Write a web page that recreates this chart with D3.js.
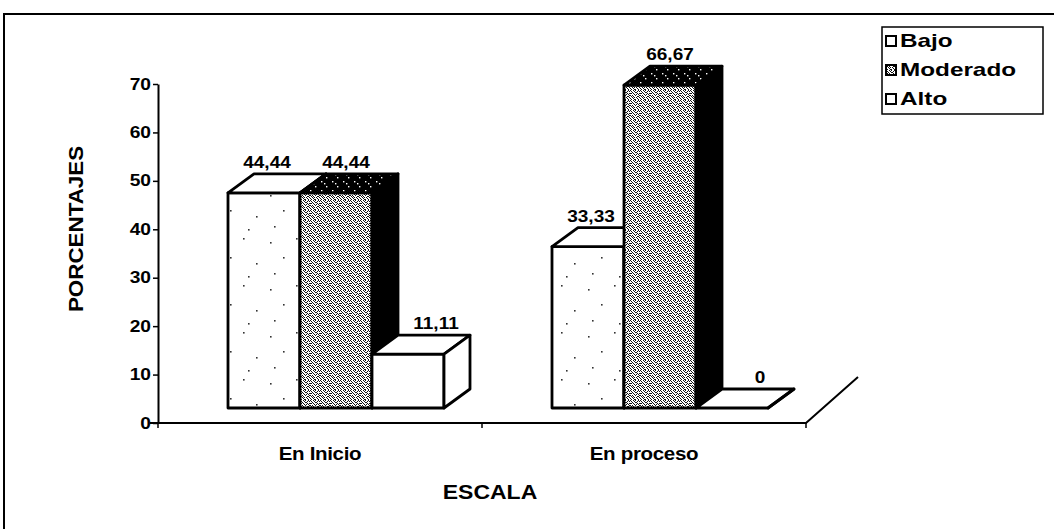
<!DOCTYPE html>
<html>
<head>
<meta charset="utf-8">
<script src="https://cdn.jsdelivr.net/npm/d3@7"></script>
<style>
  body { margin: 0; background: #fff; }
  svg { display: block; }
</style>
</head>
<body>
<svg id="chart"></svg>
<script>
const categories = ['En Inicio', 'En proceso']
const seriesNames = ['Bajo', 'Moderado', 'Alto']
const bajo = [44.44, 33.33]
const moderado = [44.44, 66.67]
const alto = [11.11, 0]
const yTicks = [0, 10, 20, 30, 40, 50, 60, 70]
const valueLabels = {
  Bajo: ['44,44', '33,33'],
  Moderado: ['44,44', '66,67'],
  Alto: ['11,11', '0']
}

const W = 1054
const H = 529
const svg = d3.select('#chart').attr('width', W).attr('height', H)

// plot box (front edge of the floor)
const plot = { left: 158, right: 806, top: 84, bottom: 423 }
// bars sit half way back on the floor, floor has full depth
const barShift = { dx: 16, dy: -15 }
const barDepth = { dx: 26, dy: -19 }
const floorDepth = { dx: 52, dy: -46 }
const groupWidth = 216
// how far each series' label sits right of its bar's front centre
const labelShift = { Bajo: 3, Moderado: 10, Alto: 28 }

const series = { Bajo: bajo, Moderado: moderado, Alto: alto }

// the scan stretched the lettering sideways a bit
const FONT = 'Liberation Sans, Arial, sans-serif'

// ---- textures, a scanned look ----
const defs = svg.append('defs')

// light stipple for "Bajo": nearly white, a few specks
const pLight = defs.append('pattern')
  .attr('id', 'light')
  .attr('patternUnits', 'userSpaceOnUse')
  .attr('width', 53).attr('height', 47)
pLight.append('rect').attr('width', 53).attr('height', 47).attr('fill', '#fff')
;[[5, 7], [31, 3], [18, 22], [44, 28], [9, 38], [36, 41]].forEach(([x, y]) => {
  pLight.append('rect').attr('x', x).attr('y', y).attr('width', 1.6).attr('height', 1.6).attr('fill', '#333')
})

// grainy grey for "Moderado"
const greyTile = [
  '1001010010',
  '0100100101',
  '0010011000',
  '1101000101',
  '0000101010',
  '1010010001',
  '0101000110',
  '0010101001',
  '1001000100',
  '0100110010'
]
const pGrey = defs.append('pattern')
  .attr('id', 'grey')
  .attr('patternUnits', 'userSpaceOnUse')
  .attr('width', 10).attr('height', 10)
pGrey.append('rect').attr('width', 10).attr('height', 10).attr('fill', '#fff')
greyTile.forEach((row, j) => {
  row.split('').forEach((c, i) => {
    if (c === '1') pGrey.append('rect').attr('x', i).attr('y', j).attr('width', 1).attr('height', 1).attr('fill', '#111')
  })
})

// dark top for "Moderado"
const pDark = defs.append('pattern')
  .attr('id', 'dark')
  .attr('patternUnits', 'userSpaceOnUse')
  .attr('width', 11).attr('height', 9)
pDark.append('rect').attr('width', 11).attr('height', 9).attr('fill', '#000')
;[[2, 1], [7, 6], [5, 3]].forEach(([x, y]) => {
  pDark.append('rect').attr('x', x).attr('y', y).attr('width', 1.4).attr('height', 1.4).attr('fill', '#fff')
})

const faceFill = {
  Bajo: { front: 'url(#light)', top: '#fff', side: '#fff' },
  Moderado: { front: 'url(#grey)', top: 'url(#dark)', side: '#000' },
  Alto: { front: '#fff', top: '#fff', side: '#fff' }
}

// ---- outer frame ----
svg.append('path')
  .attr('d', `M4,${H} L4,14 L${W},14`)
  .attr('fill', 'none')
  .attr('stroke', '#000')
  .attr('stroke-width', 2)

// ---- scales ----
const x = d3.scaleBand().domain(categories).range([plot.left, plot.right])
const xs = d3.scaleBand().domain(seriesNames).range([0, groupWidth])
const y = d3.scaleLinear().domain([0, 70]).range([plot.bottom, plot.top])

const g = svg.append('g')

// floor: front edge and right edge
g.append('path')
  .attr('d', `M${plot.left - 8},${plot.bottom} L${plot.right},${plot.bottom} L${plot.right + floorDepth.dx},${plot.bottom + floorDepth.dy}`)
  .attr('fill', 'none')
  .attr('stroke', '#000')
  .attr('stroke-width', 2)

// category tick marks
const xTickPos = [plot.left, x(categories[1]), plot.right]
g.selectAll('.xtick')
  .data(xTickPos)
  .enter()
  .append('line')
  .attr('x1', d => d).attr('x2', d => d)
  .attr('y1', plot.bottom).attr('y2', plot.bottom + 5)
  .attr('stroke', '#000')
  .attr('stroke-width', 1.5)

// y axis
const sxTick = 1.2
g.append('g')
  .attr('transform', `translate(${plot.left},0)`)
  .call(d3.axisLeft(y).tickValues(yTicks).tickSize(5).tickSizeOuter(0).tickFormat(d3.format('d')))
  .call(a => a.select('.domain').attr('stroke-width', 2))
  .call(a => a.selectAll('.tick line').attr('stroke-width', 1.5))
  .selectAll('text')
  .attr('x', -7 / sxTick)
  .attr('transform', `scale(${sxTick},1)`)
  .style('font-family', FONT)
  .style('font-size', '16px')
  .style('font-weight', 'bold')
  .style('fill', '#000')

// ---- 3D bars ----
const bars = []
categories.forEach((c, i) => {
  const gx = x(c) + (x.bandwidth() - groupWidth) / 2 + barShift.dx
  seriesNames.forEach(s => {
    bars.push({ cat: c, ser: s, value: series[s][i], label: valueLabels[s][i], x0: gx + xs(s), x1: gx + xs(s) + xs.bandwidth() })
  })
})

const barG = g.selectAll('.bar')
  .data(bars)
  .enter()
  .append('g')
  .attr('class', 'bar')

const base = plot.bottom + barShift.dy
const topY = d => y(d.value) + barShift.dy

// front face
barG.append('rect')
  .attr('x', d => d.x0)
  .attr('y', d => topY(d))
  .attr('width', d => d.x1 - d.x0)
  .attr('height', d => base - topY(d))
  .attr('fill', d => faceFill[d.ser].front)
  .attr('stroke', '#000')
  .attr('stroke-width', 2.8)
  .attr('stroke-linejoin', 'round')

// top face
barG.append('path')
  .attr('d', d => {
    const t = topY(d)
    return `M${d.x0},${t} L${d.x1},${t} L${d.x1 + barDepth.dx},${t + barDepth.dy} L${d.x0 + barDepth.dx},${t + barDepth.dy} Z`
  })
  .attr('fill', d => faceFill[d.ser].top)
  .attr('stroke', '#000')
  .attr('stroke-width', 2.8)
  .attr('stroke-linejoin', 'round')

// right side face
barG.append('path')
  .attr('d', d => {
    const t = topY(d)
    return `M${d.x1},${t} L${d.x1 + barDepth.dx},${t + barDepth.dy} L${d.x1 + barDepth.dx},${base + barDepth.dy} L${d.x1},${base} Z`
  })
  .attr('fill', d => faceFill[d.ser].side)
  .attr('stroke', '#000')
  .attr('stroke-width', 2.8)
  .attr('stroke-linejoin', 'round')

// value labels, on top of every bar
const sxVal = 1.12
g.append('g')
  .selectAll('text')
  .data(bars)
  .enter()
  .append('text')
  .attr('transform', d => `translate(${(d.x0 + d.x1) / 2 + labelShift[d.ser]},${topY(d) + barDepth.dy - 6}) scale(${sxVal},1)`)
  .attr('text-anchor', 'middle')
  .style('font-family', FONT)
  .style('font-size', '17px')
  .style('font-weight', 'bold')
  .text(d => d.label)

// ---- axis titles & category labels ----
g.selectAll('.cat')
  .data(categories)
  .enter()
  .append('text')
  .attr('transform', d => `translate(${x(d) + x.bandwidth() / 2},460) scale(1.08,1)`)
  .attr('text-anchor', 'middle')
  .style('font-family', 'Liberation Sans Narrow, Arial Narrow, sans-serif')
  .style('font-size', '19px')
  .style('font-weight', 'bold')
  .style('letter-spacing', '-0.3px')
  .text(d => d)

svg.append('text')
  .attr('transform', 'translate(490,499) scale(1.15,1)')
  .attr('text-anchor', 'middle')
  .style('font-family', FONT)
  .style('font-size', '20px')
  .style('font-weight', 'bold')
  .text('ESCALA')

svg.append('text')
  .attr('transform', 'translate(83,229) rotate(-90) scale(1.12,1)')
  .attr('text-anchor', 'middle')
  .style('font-family', FONT)
  .style('font-size', '20px')
  .style('font-weight', 'bold')
  .text('PORCENTAJES')

// ---- legend ----
const legend = svg.append('g').attr('transform', 'translate(882,27)')
legend.append('rect')
  .attr('width', 161).attr('height', 87)
  .attr('fill', '#fff')
  .attr('stroke', '#000')
  .attr('stroke-width', 1.5)

const item = legend.selectAll('.item')
  .data(seriesNames)
  .enter()
  .append('g')
  .attr('transform', (d, i) => `translate(4,${14 + i * 29})`)
item.append('rect')
  .attr('x', 0).attr('y', -5)
  .attr('width', 10).attr('height', 10)
  .attr('fill', d => d === 'Moderado' ? 'url(#grey)' : '#fff')
  .attr('stroke', '#000')
  .attr('stroke-width', 2)
item.append('text')
  .attr('transform', 'translate(14,0) scale(1.35,1)')
  .attr('dy', '0.36em')
  .style('font-family', FONT)
  .style('font-size', '18px')
  .style('font-weight', 'bold')
  .text(d => d)
</script>
</body>
</html>
